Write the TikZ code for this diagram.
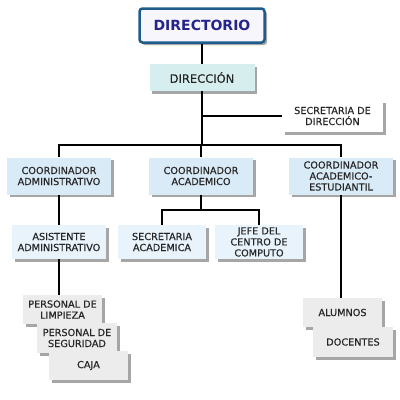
\documentclass[tikz,border=0pt]{standalone}
\usepackage{fontspec}
\setmainfont{DejaVu Sans}
\newfontfamily\nodo{DejaVu Sans}[FakeBold=0.4]
\usepackage{tikz}
\usetikzlibrary{shadows}

\definecolor{marco}{RGB}{30,92,140}
\definecolor{azulTexto}{RGB}{36,36,140}
\definecolor{fondoTorio}{RGB}{246,246,252}
\definecolor{verdeDir}{RGB}{214,238,238}
\definecolor{azulCoord}{RGB}{218,235,248}
\definecolor{azulArea}{RGB}{232,243,251}
\definecolor{grisBase}{RGB}{236,236,236}

\begin{document}
\begin{tikzpicture}[x=1pt, y=-1pt,
  every node/.style={font=\nodo\fontsize{9.7}{11}\selectfont, text=black!85},
  sombra/.style={drop shadow={shadow xshift=2.5pt, shadow yshift=-2.5pt, fill=black, opacity=0.35}},
  cargo/.style={rectangle, inner sep=1pt, align=center, sombra},
  coordbox/.style={cargo, fill=azulCoord, minimum width=104pt, minimum height=37pt},
  areabox/.style={cargo, fill=azulArea, minimum width=88pt, minimum height=34pt},
  basebox/.style={cargo, fill=grisBase, minimum width=79pt, minimum height=29pt},
  linea/.style={line width=1.1pt, black}]
\useasboundingbox (0,0) rectangle (400,400);

% cabeza
\node[cargo, draw=marco, line width=2.5pt, rounded corners=3pt, fill=fondoTorio, text=azulTexto,
  font=\fontsize{14}{16}\selectfont\bfseries, minimum width=125pt, minimum height=34pt] (directorio) at (202,25.5) {DIRECTORIO};
\node[cargo, fill=verdeDir, font=\nodo\fontsize{11.5}{13}\selectfont, minimum width=105pt, minimum height=27pt] (direccion) at (202,77.5) {DIRECCIÓN};
\node[cargo, fill=white, minimum width=101pt, minimum height=32pt] (secdir) at (332.5,116) {SECRETARIA DE\\DIRECCIÓN};

% coordinadores
\node[coordbox] (cadmin) at (59,176) {COORDINADOR\\ADMINISTRATIVO};
\node[coordbox] (cacad) at (201,176) {COORDINADOR\\ACADEMICO};
\node[coordbox] (cest) at (341,176) {COORDINADOR\\ACADEMICO-\\ESTUDIANTIL};

\node[areabox, minimum width=94pt] (asist) at (59,242) {ASISTENTE\\ADMINISTRATIVO};
\node[areabox] (secacad) at (162,242) {SECRETARIA\\ACADEMICA};
\node[areabox] (jefe) at (259,242) {JEFE DEL\\CENTRO DE\\COMPUTO};

% personal
\node[basebox] (limp) at (62.5,309.5) {PERSONAL DE\\LIMPIEZA};
\node[basebox, minimum width=80pt, minimum height=30pt] (segur) at (77,338) {PERSONAL DE\\SEGURIDAD};
\node[basebox] (caja) at (88.5,365.5) {CAJA};
\node[basebox] (alum) at (342.5,312.5) {ALUMNOS};
\node[basebox, minimum width=80pt, minimum height=30pt] (doc) at (353,342) {DOCENTES};

% lineas
\coordinate (bus) at (202,145);
\coordinate (bus2) at (201,210);
\draw[linea] (directorio.south) -- (directorio.south |- direccion.north);
\draw[linea] (direccion.south) -- (bus);
\draw[linea] (secdir.west) -- (secdir.west -| direccion.south);
\draw[linea] (cadmin.north) |- (bus) -| (cest.north);
\draw[linea] (cacad.north) -- (cacad.north |- bus);
\draw[linea] (cacad.south) -- (bus2);
\draw[linea] (secacad.north) |- (bus2) -| (jefe.north);
\draw[linea] (cadmin.south) -- (asist.north);
\draw[linea] (asist.south) -- (asist.south |- limp.north);
\draw[linea] (cest.south) -- (cest.south |- alum.north);
\end{tikzpicture}
\end{document}
